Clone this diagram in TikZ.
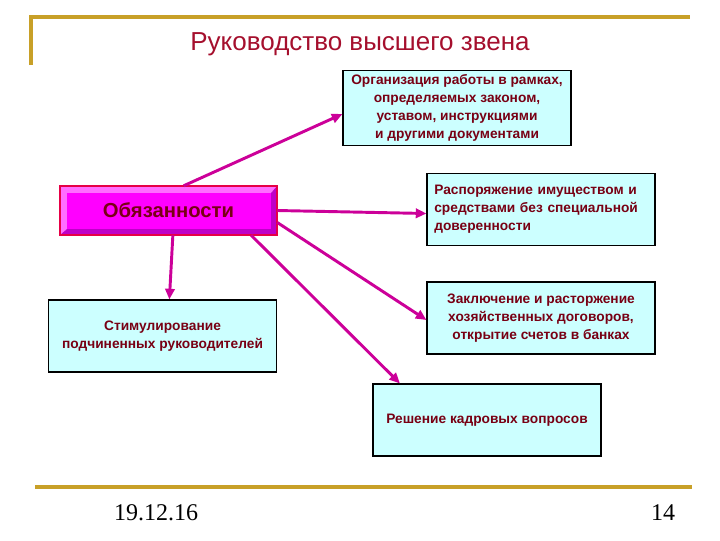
\documentclass[tikz,border=0pt]{standalone}
\usepackage{fontspec}
\setmainfont{Liberation Sans}
\newfontfamily\footserif{Liberation Serif}
\usetikzlibrary{arrows.meta,calc}
\definecolor{gold}{RGB}{200,160,40}
\definecolor{titlered}{RGB}{165,15,45}
\definecolor{maroon}{RGB}{120,0,20}
\definecolor{boxfill}{RGB}{204,255,255}
\definecolor{arrowc}{RGB}{204,0,153}
\definecolor{face}{RGB}{255,0,255}
\definecolor{bevlight}{RGB}{255,110,255}
\definecolor{bevdark}{RGB}{190,0,200}
\definecolor{bevborder}{RGB}{230,0,70}
\begin{document}
\begin{tikzpicture}[x=0.75pt,y=-0.75pt,
  infobox/.style={draw=black,line width=0.8pt,fill=boxfill,rectangle,
    minimum width=171pt,minimum height=54pt,inner sep=3pt,
    font=\fontsize{10.3}{13.6}\selectfont\bfseries,text=maroon},
  conn/.style={draw=arrowc,line width=2.2pt,-{Triangle[length=8pt,width=7pt]}},
  rule/.style={draw=gold,line width=2.4pt}]
\useasboundingbox (0,0) rectangle (720,540);
% frame lines
\draw[rule] (31,65) -- (31,17) -- (690,17);
\draw[rule] (35,487) -- (692,487);
% title
\node[text=titlered,font=\fontsize{19.5}{22}\selectfont] (title) at (360,44) {Руководство высшего звена};
% footer
\node (date) at (156,513) {\footserif\fontsize{18}{20}\selectfont 19.12.16};
\node (page) at (663,513) {\footserif\fontsize{18}{20}\selectfont 14};
% bevelled main box
\fill[bevlight] (60,186) -- (277,186) -- (271,193) -- (67,193) -- (67,229) -- (60,235) -- cycle;
\fill[bevdark] (277,186) -- (277,235) -- (60,235) -- (67,229) -- (271,229) -- (271,193) -- cycle;
\fill[face] (67,193) rectangle (271,229);
\draw[bevborder,line width=0.8pt] (60,186) rectangle (277,235);
\node[inner sep=0pt,minimum width=162.75pt,minimum height=36.75pt,
  font=\fontsize{15.2}{17}\selectfont\bfseries,text=maroon] (obz) at (168.5,210.5) {Обязанности};
% info boxes
\node[infobox,align=center] (b1) at (457,108) {Организация работы в рамках,\\определяемых законом,\\уставом, инструкциями\\и другими документами};
\node[infobox,align=left,text width=160pt] (b2) at (541,209.5) {Распоряжение имуществом и\\средствами без специальной\\доверенности};
\node[infobox,align=center] (b3) at (541,318) {Заключение и расторжение\\хозяйственных договоров,\\открытие счетов в банках};
\node[infobox,align=center] (b4) at (162.5,336) {Стимулирование\\подчиненных руководителей};
\node[infobox,align=center] (b5) at (487,420) {Решение кадровых вопросов};
% connectors
\draw[conn] ($(obz.north west)!0.57!(obz.north east)$) -- ([yshift=-4.5pt]b1.west);
\draw[conn] (obz.east) -- ([yshift=-3pt]b2.west);
\draw[conn] ([yshift=-9pt]obz.east) -- ([yshift=-1.5pt]b3.west);
\draw[conn] ($(obz.south west)!0.88!(obz.south east)$) -- ($(b5.north west)!0.12!(b5.north east)$);
\draw[conn] ($(obz.south west)!0.52!(obz.south east)$) -- ($(b4.north west)!0.53!(b4.north east)$);
\end{tikzpicture}
\end{document}
